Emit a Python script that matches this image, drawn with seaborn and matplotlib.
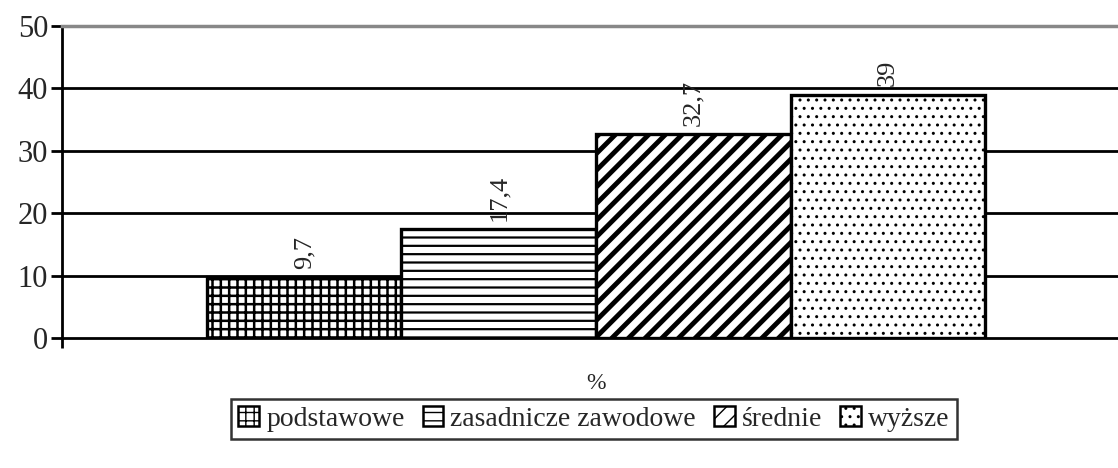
import pandas as pd
import matplotlib
matplotlib.use("Agg")
import matplotlib.pyplot as plt
from matplotlib.patches import Patch
import seaborn as sns

# data
category = ["%"]
levels = ["podstawowe", "zasadnicze zawodowe", "średnie", "wyższe"]
values = [9.7, 17.4, 32.7, 39.0]
value_labels = ["9,7", "17,4", "32,7", "39"]
hatches = ["++", "--", "//", ".."]
hatch_widths = [1.8, 1.6, 3.5, 1.0]

df = pd.DataFrame({"cat": category * len(levels), "level": levels, "value": values})

sns.set_style("white")
plt.rcParams["font.family"] = ["Liberation Serif", "DejaVu Serif"]
plt.rcParams["hatch.color"] = "black"

fig = plt.figure(figsize=(11.18, 4.68), dpi=100)
ax = fig.add_axes([62 / 1118, 1 - 338 / 468, 1068 / 1118, 312 / 468])

sns.barplot(data=df, x="cat", y="value", hue="level", hue_order=levels,
            palette=["white"] * 4, edgecolor="black", linewidth=2.4,
            saturation=1, legend=False, ax=ax)

for cont, h, hw, lab in zip(ax.containers, hatches, hatch_widths, value_labels):
    for p in cont.patches:
        p.set_hatch(h)
        if hasattr(p, "set_hatch_linewidth"):
            p.set_hatch_linewidth(hw)
    ax.bar_label(cont, labels=[lab], rotation=90, padding=6, fontsize=19)

ax.set_ylim(0, 50)
ax.set_xlim(-0.549, 0.549)
ax.set_yticks([0, 10, 20, 30, 40, 50])
ax.set_xticks([-0.549], minor=True)
for y in [10, 20, 30, 40]:
    ax.axhline(y, color="black", lw=2, zorder=0)
ax.set_ylabel("")
ax.set_xlabel("")
ax.tick_params(axis="y", labelsize=22, length=8, width=2, color="black", pad=2, left=True)
ax.tick_params(axis="x", which="major", labelsize=17, length=0, pad=25)
ax.tick_params(axis="x", which="minor", length=7, width=2, color="black", bottom=True)

for s in ["left", "bottom"]:
    ax.spines[s].set_color("black")
    ax.spines[s].set_linewidth(2)
ax.spines["top"].set_color("#888888")
ax.spines["top"].set_linewidth(2.5)
ax.spines["right"].set_visible(False)

handles = []
for h, hw in zip(hatches, hatch_widths):
    handles.append(Patch(facecolor="white", edgecolor="black", hatch=h, linewidth=1.8))
leg = fig.legend(handles, levels, loc="center", bbox_to_anchor=(594 / 1118, 1 - 419 / 468),
                 ncol=4, fontsize=20, frameon=True, fancybox=False, edgecolor="black",
                 handlelength=0.75, handleheight=0.75, handletextpad=0.25, columnspacing=0.65,
                 borderpad=0.25)
leg.get_frame().set_linewidth(1.8)

fig.savefig("out.png", dpi=100)
